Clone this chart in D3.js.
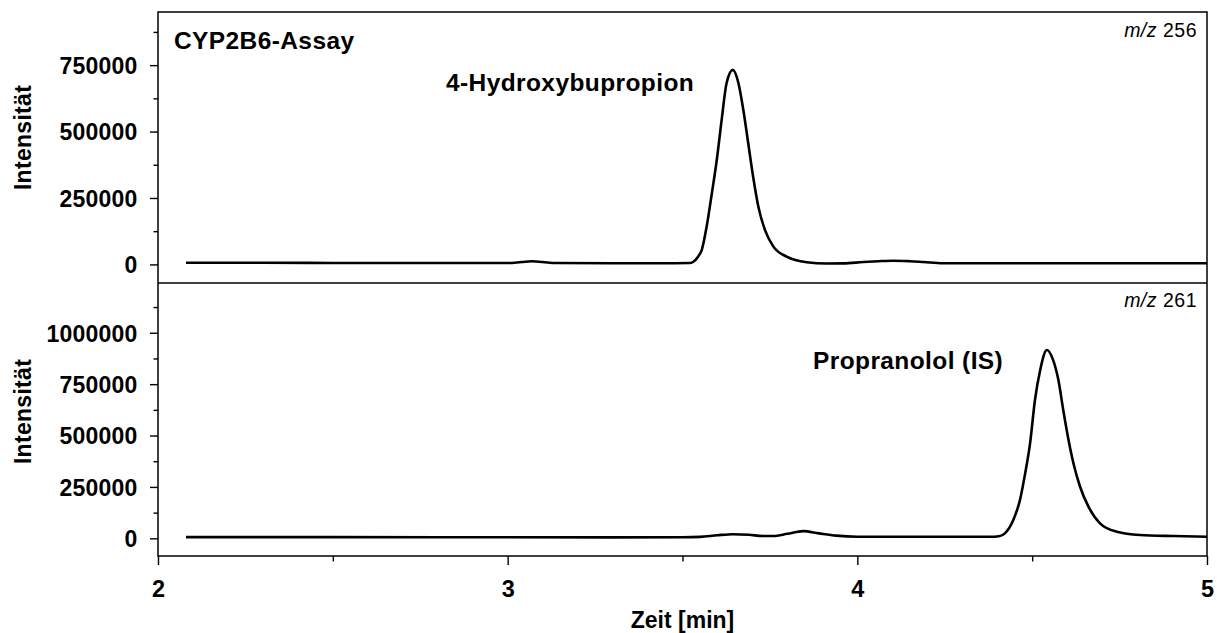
<!DOCTYPE html>
<html>
<head>
<meta charset="utf-8">
<script src="https://cdn.jsdelivr.net/npm/d3@7/dist/d3.min.js"></script>
<style>
body { margin:0; background:#fff; }
text { font-family: Arial, "Liberation Sans", sans-serif; fill:#000; }
</style>
</head>
<body>
<script>

// m/z 256 trace (4-Hydroxybupropion)
var topTime = [2.08, 2.3, 2.5, 2.7, 2.9, 3.0, 3.04, 3.07, 3.1, 3.14, 3.3, 3.45, 3.52,
    3.53, 3.545, 3.555, 3.569, 3.584, 3.598, 3.612, 3.626, 3.644, 3.660, 3.674, 3.688,
    3.702, 3.717, 3.736, 3.760, 3.798, 3.855, 3.912, 3.96, 4.017, 4.06, 4.103, 4.15,
    4.189, 4.245, 4.4, 4.6, 4.8, 5.0];
var topIntensity = [6000, 6000, 5500, 5000, 5000, 5000, 9000, 12000, 9000, 5000, 4500, 4500, 5000,
    9000, 30000, 54000, 142000, 268000, 393000, 544000, 682000, 732000, 682000, 581000, 456000,
    330000, 217000, 129000, 67000, 29000, 8000, 3500, 4000, 9000, 12000, 14000, 12000,
    9000, 4500, 4500, 4500, 4500, 4500];

// m/z 261 trace (Propranolol, IS)
var bottomTime = [2.08, 2.5, 3.0, 3.3, 3.5, 3.55, 3.6, 3.645, 3.69, 3.73, 3.76, 3.80, 3.845,
    3.89, 3.94, 4.0, 4.2, 4.379, 4.405, 4.422, 4.446, 4.465, 4.480, 4.494, 4.508, 4.523,
    4.542, 4.560, 4.575, 4.589, 4.604, 4.618, 4.637, 4.661, 4.694, 4.742, 4.808, 4.904, 5.0];
var bottomIntensity = [6000, 6000, 5000, 4500, 5000, 7000, 15000, 20000, 17000, 11000, 11000, 22000, 35000,
    24000, 13000, 8000, 7500, 7500, 10000, 24000, 89000, 186000, 316000, 462000, 673000, 819000,
    916000, 867000, 770000, 623000, 478000, 365000, 251000, 154000, 73000, 32000, 16000, 11000, 8000];

var xTicks = [2, 3, 4, 5];
var xMinorTicks = [2.5, 3.5, 4.5];
var topTicks = [0, 250000, 500000, 750000];
var topMinorTicks = [125000, 375000, 625000, 875000];
var bottomTicks = [0, 250000, 500000, 750000, 1000000];
var bottomMinorTicks = [125000, 375000, 625000, 875000, 1125000];

var xLabel = "Zeit [min]";
var yLabel = "Intensität";
var assayTitle = "CYP2B6-Assay";
var topPeakName = "4-Hydroxybupropion";
var bottomPeakName = "Propranolol (IS)";
var topMass = "256";
var bottomMass = "261";

//==============================================================================

var totalWidth = 1217;
var totalHeight = 633;
var left = 158, right = 1207;
var topY0 = 12, midY = 283, bottomY1 = 556;

var svg = d3.select('body').append('svg')
    .attr('width', totalWidth)
    .attr('height', totalHeight);

var x = d3.scaleLinear().domain([2, 5]).range([left, right]);
var yTop = d3.scaleLinear().domain([-70000, 950000]).range([midY, topY0]);
var yBottom = d3.scaleLinear().domain([-86000, 1242000]).range([bottomY1, midY]);

function styleAxis(g, size, spacing) {
    g.select('.domain').remove();
    g.selectAll('line').attr('stroke', '#000').attr('stroke-width', 1.4);
    g.selectAll('text')
        .style('font-size', size + 'px')
        .style('font-weight', 'bold')
        .style('letter-spacing', spacing + 'px')
        .attr('fill', '#000');
}

function drawYAxis(scale, major, minor) {
    var gMinor = svg.append('g').attr('transform', 'translate(' + left + ',0)')
        .call(d3.axisLeft(scale).tickValues(minor).tickSize(4.5).tickFormat(''));
    styleAxis(gMinor, 23, 0);
    var g = svg.append('g').attr('transform', 'translate(' + left + ',0)')
        .call(d3.axisLeft(scale).tickValues(major).tickSize(8).tickPadding(12.5).tickFormat(d3.format('d')));
    styleAxis(g, 23, 0.2);
    g.selectAll('text').attr('dy', '0.36em');
}

drawYAxis(yTop, topTicks, topMinorTicks);
drawYAxis(yBottom, bottomTicks, bottomMinorTicks);

var gxMinor = svg.append('g').attr('transform', 'translate(0,' + bottomY1 + ')')
    .call(d3.axisBottom(x).tickValues(xMinorTicks).tickSize(5.5).tickFormat(''));
styleAxis(gxMinor, 23, 0);
var gx = svg.append('g').attr('transform', 'translate(0,' + bottomY1 + ')')
    .call(d3.axisBottom(x).tickValues(xTicks).tickSize(9).tickPadding(15).tickFormat(d3.format('d')));
styleAxis(gx, 23.5, 0);

// frame + panel separator
svg.append('rect')
    .attr('x', left).attr('y', topY0)
    .attr('width', right - left).attr('height', bottomY1 - topY0)
    .attr('fill', 'none').attr('stroke', '#000').attr('stroke-width', 1.5);
svg.append('line')
    .attr('x1', left).attr('x2', right)
    .attr('y1', midY).attr('y2', midY)
    .attr('stroke', '#000').attr('stroke-width', 1.5);

// traces
function drawTrace(times, values, scale) {
    var line = d3.line()
        .x(function(d) { return x(d[0]); })
        .y(function(d) { return scale(d[1]); })
        .curve(d3.curveMonotoneX);
    svg.append('path')
        .datum(d3.zip(times, values))
        .attr('d', line)
        .attr('fill', 'none')
        .attr('stroke', '#000')
        .attr('stroke-width', 2.6)
        .attr('stroke-linejoin', 'round');
}

drawTrace(topTime, topIntensity, yTop);
drawTrace(bottomTime, bottomIntensity, yBottom);

// labels
function boldLabel(txt, px, py, size, spacing) {
    return svg.append('text')
        .attr('x', px).attr('y', py)
        .style('font-size', size + 'px')
        .style('font-weight', 'bold')
        .style('letter-spacing', spacing + 'px')
        .text(txt);
}

boldLabel(assayTitle, 174, 49, 24.5, 0.4);
boldLabel(topPeakName, 446, 90.7, 24.5, 0.4);
boldLabel(bottomPeakName, 813, 369.3, 24.5, 0.4);
boldLabel(xLabel, (left + right) / 2, 628, 23, 0).attr('text-anchor', 'middle');

[[topY0 + 125.5], [411.5]].forEach(function(d) {
    svg.append('text')
        .attr('transform', 'translate(31,' + d[0] + ') rotate(-90)')
        .attr('text-anchor', 'middle')
        .style('font-size', '23px')
        .style('font-weight', 'bold')
        .style('letter-spacing', '0.3px')
        .text(yLabel);
});

function massLabel(mass, py) {
    var t = svg.append('text')
        .attr('x', 1197).attr('y', py)
        .attr('text-anchor', 'end')
        .style('font-size', '19.5px')
        .style('letter-spacing', '0.5px');
    t.append('tspan').style('font-style', 'italic').text('m/z');
    t.append('tspan').text(' ' + mass);
}

massLabel(topMass, 37.3);
massLabel(bottomMass, 307.3);

</script>
</body>
</html>
